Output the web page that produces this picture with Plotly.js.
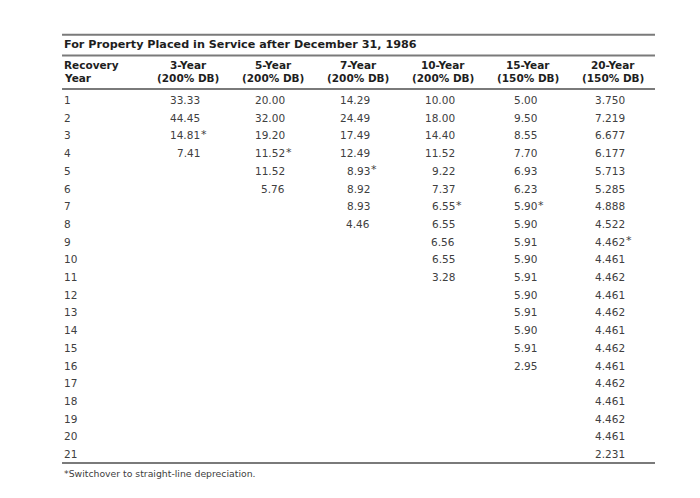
<!DOCTYPE html>
<html>
<head>
<meta charset="utf-8">
<script src="https://cdn.plot.ly/plotly-3.0.1.min.js"></script>
<style>html,body{margin:0;padding:0;background:#fff}#chart{width:700px;height:498px}</style>
</head>
<body>
<div id="chart"></div>
<script>
// ---- data ----
const tableTitle = "For Property Placed in Service after December 31, 1986";
const rowHeader = ["Recovery", "Year"];
const recoveryYears = [1,2,3,4,5,6,7,8,9,10,11,12,13,14,15,16,17,18,19,20,21];
const columnNames = ["3-Year", "5-Year", "7-Year", "10-Year", "15-Year", "20-Year"];
const columnMethods = ["(200% DB)", "(200% DB)", "(200% DB)", "(200% DB)", "(150% DB)", "(150% DB)"];
const rate3 = [33.33, 44.45, 14.81, 7.41];
const rate5 = [20.00, 32.00, 19.20, 11.52, 11.52, 5.76];
const rate7 = [14.29, 24.49, 17.49, 12.49, 8.93, 8.92, 8.93, 4.46];
const rate10 = [10.00, 18.00, 14.40, 11.52, 9.22, 7.37, 6.55, 6.55, 6.56, 6.55, 3.28];
const rate15 = [5.00, 9.50, 8.55, 7.70, 6.93, 6.23, 5.90, 5.90, 5.91, 5.90, 5.91, 5.90, 5.91, 5.90, 5.91, 2.95];
const rate20 = [3.750, 7.219, 6.677, 6.177, 5.713, 5.285, 4.888, 4.522, 4.462, 4.461, 4.462, 4.461, 4.462, 4.461, 4.462, 4.461, 4.462, 4.461, 4.462, 4.461, 2.231];
const rateDecimals = [2, 2, 2, 2, 2, 3];
const switchoverYear = [3, 4, 5, 7, 7, 9];
const footnote = "*Switchover to straight-line depreciation.";

// ---- layout helpers (styling only) ----
const rates = [rate3, rate5, rate7, rate10, rate15, rate20];
const FONT = "DejaVu Sans, sans-serif";
const textColor = "#404040";
const headColor = "#1e1e1e";
const ruleColor = "#7a7a7a";
const labelX = -0.482;      // left edge of the row-label column (axis units)
const tableRight = 6.494;   // right end of rules
const yTitle = -2.11, yHead1 = -0.98, yHead2 = -0.24;
const yRules = [-2.69, -1.52, 0.38, 21.51];
const yFoot = 22.1;

const annotations = [];
function ann(o) {
  annotations.push(Object.assign({xref: "x", yref: "y", showarrow: false,
    font: {family: FONT, size: 10.5, color: textColor}, yanchor: "middle"}, o));
}
const headFont = {family: FONT, size: 10.5, color: headColor};
ann({x: labelX, y: yTitle, xanchor: "left", text: "<b>" + tableTitle + "</b>", font: {family: FONT, size: 11.2, color: headColor}});
ann({x: labelX, y: yHead1, xanchor: "left", text: "<b>" + rowHeader[0] + "</b>", font: headFont});
ann({x: labelX, y: yHead2, xanchor: "left", text: "<b>" + rowHeader[1] + "</b>", font: headFont});
columnNames.forEach((c, i) => {
  ann({x: i + 1, y: yHead1, xanchor: "center", text: "<b>" + c + "</b>", font: headFont});
  ann({x: i + 1, y: yHead2, xanchor: "center", text: "<b>" + columnMethods[i] + "</b>", font: headFont});
});
recoveryYears.forEach(yr => ann({x: labelX, y: yr, xanchor: "left", text: String(yr)}));
rates.forEach((col, i) => {
  const strs = col.map(v => v.toFixed(rateDecimals[i]));
  const maxLen = Math.max(...strs.map(s => s.length));
  const shift = maxLen * 2.7;
  strs.forEach((s, j) => {
    const yr = recoveryYears[j];
    ann({x: i + 1, y: yr, xanchor: "right", xshift: shift, text: s});
    if (yr === switchoverYear[i]) ann({x: i + 1, y: yr - 0.05, xanchor: "left", xshift: shift - 3, text: "*",
      font: {family: FONT, size: 11, color: textColor}});
  });
});
ann({x: labelX, y: yFoot, xanchor: "left", text: footnote, font: {family: FONT, size: 9.3, color: textColor}});

const shapes = yRules.map(y => ({type: "line", xref: "x", yref: "y", x0: labelX, x1: tableRight, y0: y, y1: y,
  line: {color: ruleColor, width: 2}}));

const layout = {
  width: 700, height: 498,
  margin: {l: 0, r: 0, t: 0, b: 0},
  paper_bgcolor: "#fff", plot_bgcolor: "#fff",
  showlegend: false,
  xaxis: {range: [-1.2118, 7.0235], visible: false, fixedrange: true},
  yaxis: {range: [23.486, -4.650], visible: false, fixedrange: true},
  annotations: annotations,
  shapes: shapes
};
Plotly.newPlot("chart", [{x: [], y: [], type: "scatter", mode: "markers"}], layout, {displayModeBar: false, staticPlot: true});
</script>
</body>
</html>
